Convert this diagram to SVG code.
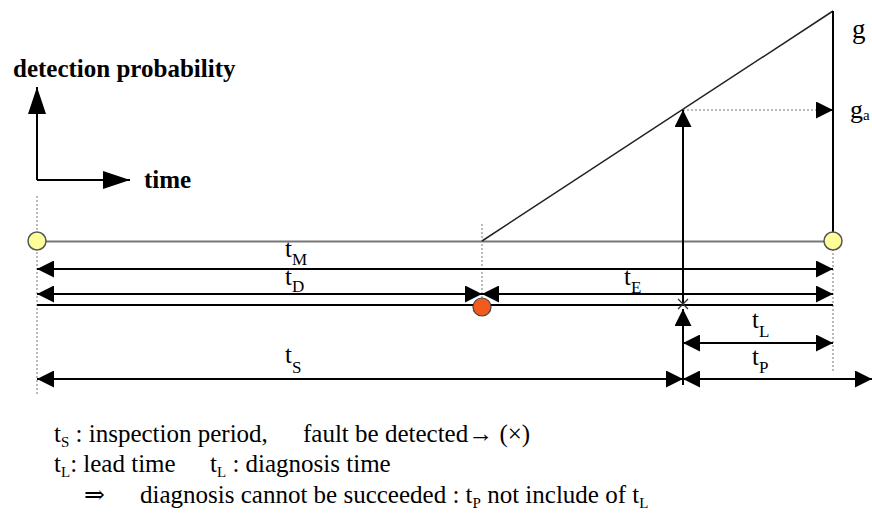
<svg xmlns="http://www.w3.org/2000/svg" width="872" height="513" viewBox="0 0 872 513">
<defs>
<marker id="ah" markerUnits="userSpaceOnUse" markerWidth="18" markerHeight="17" refX="17" refY="8.5" orient="auto-start-reverse">
<path d="M0,0 L17,8.5 L0,17 Z" fill="#000"/>
</marker>
<marker id="big" markerUnits="userSpaceOnUse" markerWidth="28" markerHeight="18" refX="27" refY="9" orient="auto">
<path d="M0,0 L27,9 L0,18 Z" fill="#000"/>
</marker>
<style>
.ln{stroke:#000;stroke-width:2;fill:none}
.gr{stroke:#777;stroke-width:2;fill:none}
.thin{stroke:#222;stroke-width:1.5;fill:none}
.dot{stroke:#777;stroke-width:1;stroke-dasharray:2,2;fill:none}
text{font-family:Liberation Serif, Times New Roman, Tinos, DejaVu Serif, serif}
.lbl{font-size:25px}
.sub{font-size:17px}
.bt{font-size:25px}
.ls{font-size:15px}
.bold{font-weight:bold;font-size:25px}
</style>
</defs>
<rect width="872" height="513" fill="#fff"/>
<g id="axes">
<line class="ln" x1="37" y1="180" x2="37" y2="87" marker-end="url(#big)"/>
<line class="ln" x1="37" y1="180" x2="130" y2="180" marker-end="url(#big)"/>
<text class="bold" x="13" y="77">detection probability</text>
<text class="bold" x="144" y="188">time</text>
</g>
<g id="guides">
<line class="dot" x1="37" y1="196" x2="37" y2="395"/>
<line class="dot" x1="482" y1="224" x2="482" y2="300"/>
<line class="dot" x1="833" y1="241" x2="833" y2="372"/>
<line class="dot" x1="683" y1="110" x2="816" y2="110"/>
</g>
<g id="connectors">
<line class="gr" x1="37" y1="241.5" x2="833" y2="241.5"/>
<line class="thin" x1="482" y1="241" x2="833" y2="11"/>
<line class="ln" x1="833" y1="11" x2="833" y2="241"/>
<line class="ln" x1="816" y1="110" x2="833" y2="110" marker-end="url(#ah)"/>
<line class="ln" x1="683" y1="304" x2="683" y2="110" marker-end="url(#ah)"/>
<line class="ln" x1="37" y1="269" x2="833" y2="269" marker-start="url(#ah)" marker-end="url(#ah)"/>
<line class="ln" x1="37" y1="294" x2="482" y2="294" marker-start="url(#ah)" marker-end="url(#ah)"/>
<line class="ln" x1="482" y1="294" x2="833" y2="294" marker-start="url(#ah)" marker-end="url(#ah)"/>
<line class="ln" x1="37" y1="305" x2="833" y2="305"/>
<line class="ln" x1="683" y1="385" x2="683" y2="309" marker-end="url(#ah)"/>
<line class="ln" x1="683" y1="343" x2="833" y2="343" marker-start="url(#ah)" marker-end="url(#ah)"/>
<line class="ln" x1="37" y1="379" x2="683" y2="379" marker-start="url(#ah)" marker-end="url(#ah)"/>
<line class="ln" x1="683" y1="379" x2="872" y2="379" marker-start="url(#ah)" marker-end="url(#ah)"/>
<path d="M678,299 L688,309 M688,299 L678,309" stroke="#333" stroke-width="1.3"/>
</g>
<g id="start-node"><circle cx="37" cy="241" r="9" fill="#ffff99" stroke="#555" stroke-width="1.5"/></g>
<g id="end-node"><circle cx="833" cy="241" r="9" fill="#ffff99" stroke="#555" stroke-width="1.5"/></g>
<g id="fault-node"><circle cx="482" cy="307" r="9" fill="#f25a1e" stroke="#444" stroke-width="1.2"/></g>
<g id="labels">
<text class="lbl" x="285" y="257">t<tspan class="sub" dy="8">M</tspan></text>
<text class="lbl" x="285" y="285">t<tspan class="sub" dy="7">D</tspan></text>
<text class="lbl" x="624" y="285">t<tspan class="sub" dy="8">E</tspan></text>
<text class="lbl" x="752" y="328">t<tspan class="sub" dy="9">L</tspan></text>
<text class="lbl" x="752" y="365">t<tspan class="sub" dy="8">P</tspan></text>
<text class="lbl" x="285" y="363">t<tspan class="sub" dy="10">S</tspan></text>
<text font-size="27" x="852" y="38">g</text>
<text font-size="26" x="850" y="118">g<tspan font-size="15" dy="2">a</tspan></text>
</g>
<g id="legend">
<text class="bt" x="54" y="442">t<tspan class="ls" dy="5">S</tspan><tspan dy="-5"> : inspection period,</tspan></text>
<text class="bt" x="303" y="442">fault be detected→ (×)</text>
<text class="bt" x="54" y="472">t<tspan class="ls" dy="5">L</tspan><tspan dy="-5">: lead time</tspan></text>
<text class="bt" x="210" y="472">t<tspan class="ls" dy="5">L</tspan><tspan dy="-5"> : diagnosis time</tspan></text>
<text class="bt" x="84" y="503">⇒</text>
<text class="bt" x="140" y="503">diagnosis cannot be succeeded : t<tspan class="ls" dy="5">P</tspan><tspan dy="-5"> not include of t</tspan><tspan class="ls" dy="5">L</tspan></text>
</g>
</svg>
